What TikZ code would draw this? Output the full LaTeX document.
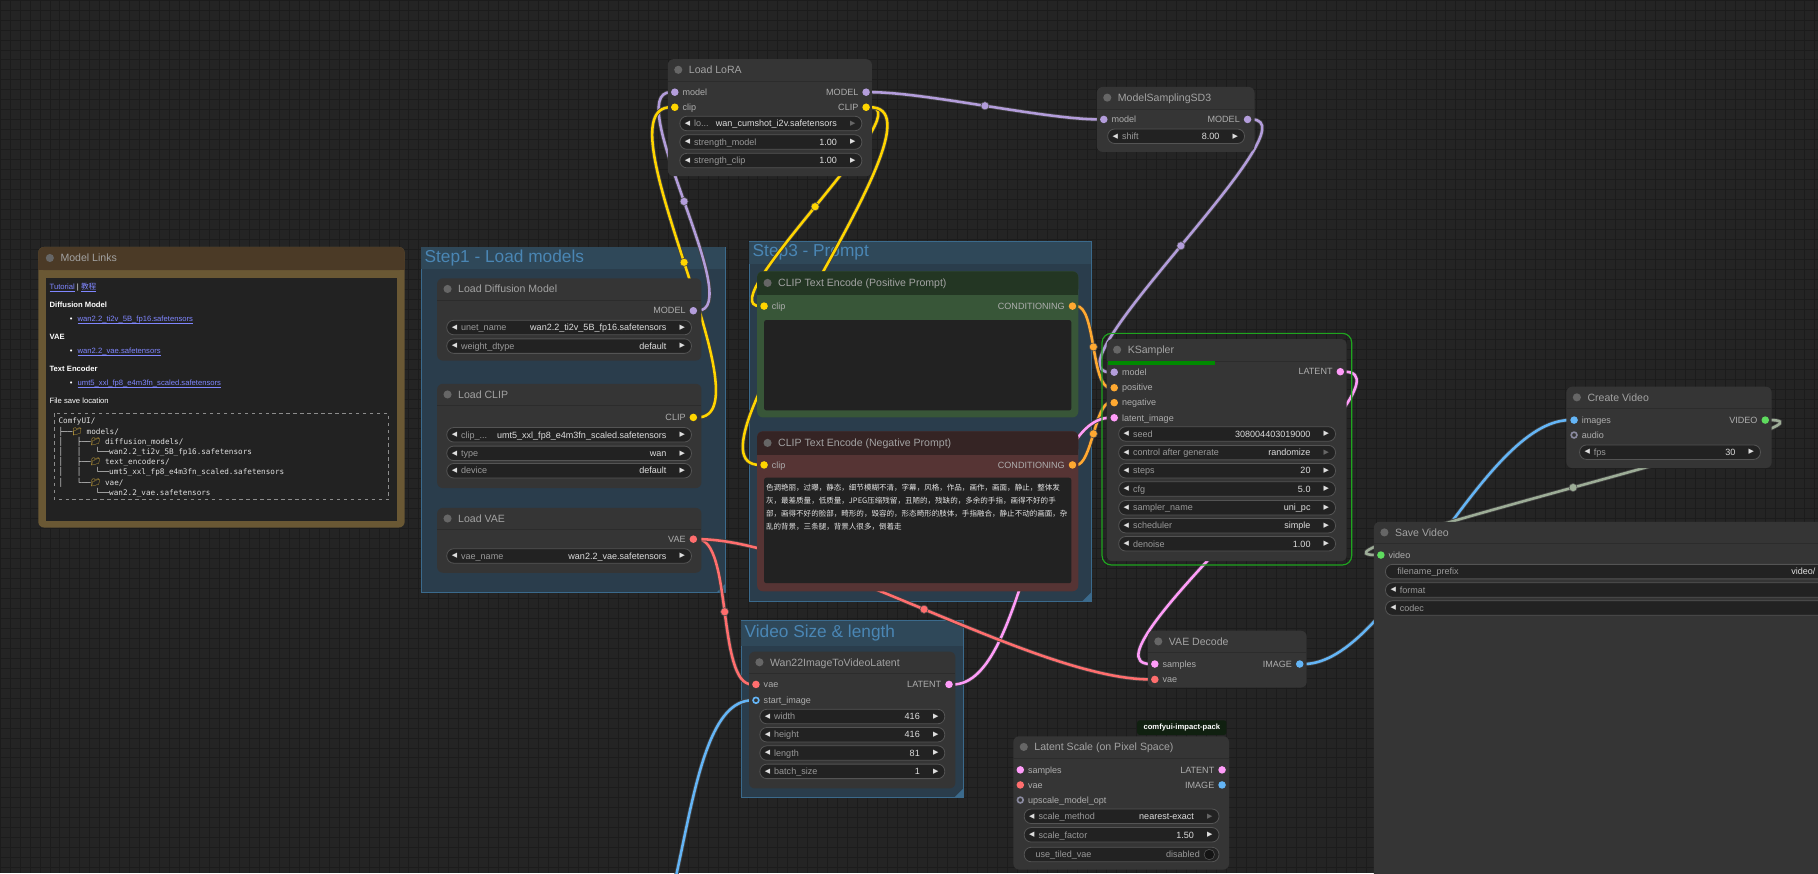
\documentclass[tikz,border=0pt]{standalone}
\usepackage{fontspec}
\setmainfont{Liberation Sans}
\newfontfamily\treefont{DejaVu Sans Mono}
\newfontfamily\cjkfont{Noto Sans CJK SC}
\newfontfamily\symfont{DejaVu Sans}
\newfontfamily\emojifont{Noto Emoji}
\usetikzlibrary{positioning,fit}

\definecolor{canvas}{HTML}{242424}
\definecolor{gridc}{HTML}{1C1C1C}
\definecolor{nodebg}{HTML}{353535}
\definecolor{sepc}{HTML}{2C2C2C}
\definecolor{pillbg}{HTML}{222222}
\definecolor{pillbrd}{HTML}{545454}
\definecolor{ttlc}{HTML}{A3A3A3}
\definecolor{lblc}{HTML}{AEAEAE}
\definecolor{wlblc}{HTML}{9A9A9A}
\definecolor{valc}{HTML}{DEDEDE}
\definecolor{dimc}{HTML}{666666}
\definecolor{dotc}{HTML}{666666}
\definecolor{grpfill}{HTML}{2A3D4C}
\definecolor{grpband}{HTML}{2F4859}
\definecolor{grpbrd}{HTML}{3B6A8C}
\definecolor{grptxt}{HTML}{4A86B4}
\definecolor{notetitle}{HTML}{4B3A26}
\definecolor{notebrd}{HTML}{6A5834}
\definecolor{linkc}{HTML}{7F86FF}
\definecolor{foldc}{HTML}{F5C542}
\definecolor{postitle}{HTML}{233623}
\definecolor{posbody}{HTML}{385638}
\definecolor{negtitle}{HTML}{352424}
\definecolor{negbody}{HTML}{563434}
\definecolor{modelc}{HTML}{B39DDB}
\definecolor{clipc}{HTML}{FFD500}
\definecolor{condc}{HTML}{FFA931}
\definecolor{latentc}{HTML}{FF9CF9}
\definecolor{vaec}{HTML}{FF6E6E}
\definecolor{imagec}{HTML}{64B5F6}
\definecolor{videoc}{HTML}{5EDB5E}
\definecolor{vlinkc}{HTML}{9DAD97}
\definecolor{optc}{HTML}{8A8AA0}
\definecolor{runc}{HTML}{1FA51F}
\definecolor{progc}{HTML}{008A00}
\definecolor{badgec}{HTML}{102010}

\pgfdeclarelayer{bg}
\pgfdeclarelayer{links}
\pgfsetlayers{bg,links,main}

% node body with its title row
\newcommand{\cbody}[6]{%
  \node[cbox, fit={(#2,#3) (#4,#5)}] (#1) {};
  \draw[sepc, line width=0.8pt] (#2,#3+19) -- (#4,#3+19);
  \node[tdot] (#1-dot) at (#2+9,#3+9.2) {};
  \node[ttl, anchor=base west] (#1-ttl) at (#2+18,#3+12.5) {#6};
}
% input / output slots
\newcommand{\inslot}[5]{%
  \node[slot, fill=#4] (#1) at (#2,#3) {};
  \node[slbl, anchor=base west] (#1-lbl) at (#2+6.5,#3+2.8) {#5};
}
\newcommand{\optslot}[5]{%
  \node[oslot=#4] (#1) at (#2,#3) {};
  \node[slbl, anchor=base west] (#1-lbl) at (#2+6.5,#3+2.8) {#5};
}
\newcommand{\outslot}[5]{%
  \node[slot, fill=#4] (#1) at (#2,#3) {};
  \node[slbl, anchor=base east] (#1-lbl) at (#2-6.5,#3+2.8) {#5};
}
% combo / number widget
\newcommand{\wdg}[7][valc]{%
  \node[pill, minimum width={(#4-#3)*1pt}, anchor=west] (#2) at (#3,#5) {};
  \node[wtip] (#2-l) at (#3+7,#5) {◀};
  \node[wlbl, anchor=base west] (#2-n) at (#3+12.5,#5+2.8) {#6};
  \node[wval, anchor=base east] (#2-v) at (#4-21,#5+2.8) {#7};
  \node[wtip, text=#1] (#2-r) at (#4-7.5,#5) {▶};
}
% combo cut by the right edge
\newcommand{\wdgcut}[5]{%
  \node[pill, minimum width={(#4-#3)*1pt}, anchor=west] (#2) at (#3,#5) {};
  \node[wtip] (#2-l) at (#3+7,#5) {◀};
  \node[wlbl, anchor=base west] (#2-n) at (#3+12.5,#5+2.8) {#1};
}
\newcommand{\fold}{{\emojifont\color{foldc}📁}}
\newcommand{\lnk}[1]{\textcolor{linkc}{\underline{\smash{#1}}}}

\begin{document}
\begin{tikzpicture}[
  x=1pt, y=-1pt,
  cbox/.style={rectangle, rounded corners=5pt, fill=nodebg, inner sep=0pt, outer sep=0pt},
  tdot/.style={circle, fill=dotc, inner sep=0pt, minimum size=7pt},
  ttl/.style={font=\fontsize{9.1}{10}\selectfont, text=ttlc, inner sep=0pt},
  slot/.style={circle, inner sep=0pt, minimum size=6.5pt},
  oslot/.style={circle, inner sep=0pt, minimum size=5pt, draw=#1, line width=1.4pt, fill=nodebg},
  slbl/.style={font=\fontsize{7.8}{9}\selectfont, text=lblc, inner sep=0pt},
  pill/.style={rectangle, rounded corners=6pt, minimum height=12.5pt, inner sep=0pt, fill=pillbg, draw=pillbrd, line width=0.7pt},
  wtip/.style={font=\symfont\fontsize{6}{6}\selectfont, text=valc, inner sep=0pt},
  wlbl/.style={font=\fontsize{7.8}{9}\selectfont, text=wlblc, inner sep=0pt},
  wval/.style={font=\fontsize{7.8}{9}\selectfont, text=valc, inner sep=0pt},
  tarea/.style={rectangle, rounded corners=2pt, fill=pillbg, inner sep=0pt},
  group/.style={rectangle, fill=grpfill, draw=grpbrd, line width=0.6pt, inner sep=0pt},
  gtitle/.style={font=\fontsize{14.9}{16}\selectfont, text=grptxt, inner sep=0pt},
  wire/.style={draw=#1, line width=2.2pt, preaction={draw=black!75, line width=3.6pt}},
  hub/.style={circle, fill=#1, draw=black!70, line width=0.5pt, inner sep=0pt, minimum size=7pt},
  note/.style={font=\fontsize{6.6}{8}\selectfont, text=white, inner sep=0pt},
  tree/.style={font=\treefont\fontsize{6.6}{8}\selectfont, text=white!88!black, inner sep=0pt},
  cjk/.style={font=\cjkfont\fontsize{6.5}{8}\selectfont, text=white!90!black, inner sep=0pt}
]
\useasboundingbox (0,0) rectangle (1568,753);

% Canvas and groups
\begin{pgfonlayer}{bg}
  \fill[canvas] (0,0) rectangle (1568,753);
  \foreach \gx in {0,8.6,...,1568} \draw[gridc, line width=0.6pt] (\gx,0) -- (\gx,753);
  \foreach \gy in {0,8.6,...,753} \draw[gridc, line width=0.6pt] (0,\gy) -- (1568,\gy);

  \node[group, fit={(363,213) (626,511)}] (step1) {};
  \fill[grpband] (363.3,213.3) rectangle (625.7,232);
  \node[gtitle, anchor=west] (step1-t) at (366,222.5) {Step1 - Load models};
  \fill[grpbrd] (626,511) -- (618,511) -- (626,503) -- cycle;

  \node[group, fit={(646,208) (941,519)}] (step3) {};
  \fill[grpband] (646.3,208.3) rectangle (940.7,228);
  \node[gtitle, anchor=west] (step3-t) at (649,217.5) {Step3 - Prompt};
  \fill[grpbrd] (941,519) -- (933,519) -- (941,511) -- cycle;

  \node[group, fit={(639,535) (831,688)}] (vsize) {};
  \fill[grpband] (639.3,535.3) rectangle (830.7,557.5);
  \node[gtitle, anchor=west] (vsize-t) at (642,545.7) {Video Size \& length};
  \fill[grpbrd] (831,688) -- (823,688) -- (831,680) -- cycle;
\end{pgfonlayer}

% Model Links note
\node[rectangle, rounded corners=5pt, fill=notebrd, inner sep=0pt, fit={(33,213) (349,455)}] (links) {};
\fill[notetitle, rounded corners=5pt] (33,213) rectangle (349,233);
\fill[notetitle] (33,225) rectangle (349,233);
\node[fill=pillbg, inner sep=0pt, fit={(40,240) (342,449)}] (links-in) {};
\node[tdot] (links-dot) at (43,222.5) {};
\node[ttl, anchor=base west] (links-ttl) at (52,225.8) {Model Links};
\node[note, anchor=west] (tut) at (42.6,248.6) {\lnk{Tutorial} | \lnk{\cjkfont 教程}};
\node[note, anchor=west] (h-diff) at (42.6,263) {\bfseries Diffusion Model};
\node[note, anchor=west] (b-diff) at (60,277) {•\hspace{4.5pt}\lnk{wan2.2\_ti2v\_5B\_fp16.safetensors}};
\node[note, anchor=west] (h-vae) at (42.6,290.7) {\bfseries VAE};
\node[note, anchor=west] (b-vae) at (60,304.6) {•\hspace{4.5pt}\lnk{wan2.2\_vae.safetensors}};
\node[note, anchor=west] (h-enc) at (42.6,318.3) {\bfseries Text Encoder};
\node[note, anchor=west] (b-enc) at (60,332) {•\hspace{4.5pt}\lnk{umt5\_xxl\_fp8\_e4m3fn\_scaled.safetensors}};
\node[note, anchor=west] (h-save) at (42.6,346) {File save location};
\draw[white!55!black, dashed, line width=0.5pt] (47,356.5) rectangle (335,431);
\node[tree, anchor=west] (tr1) at (50.3,363.7) {ComfyUI/};
\node[tree, anchor=west] (tr2) at (50.3,372.5) {├──\fold\ models/};
\node[tree, anchor=west] (tr3) at (50.3,381.3) {│\ \ \ ├──\fold\ diffusion\_models/};
\node[tree, anchor=west] (tr4) at (50.3,390) {│\ \ \ │\ \ \ └──wan2.2\_ti2v\_5B\_fp16.safetensors};
\node[tree, anchor=west] (tr5) at (50.3,398.7) {│\ \ \ ├──\fold\ text\_encoders/};
\node[tree, anchor=west] (tr6) at (50.3,407.4) {│\ \ \ │\ \ \ └──umt5\_xxl\_fp8\_e4m3fn\_scaled.safetensors};
\node[tree, anchor=west] (tr7) at (50.3,416.1) {│\ \ \ └──\fold\ vae/};
\node[tree, anchor=west] (tr8) at (50.3,424.8) {\ \ \ \ \ \ \ \ └──wan2.2\_vae.safetensors};

% Load LoRA
\cbody{lora}{576}{51}{752}{152}{Load LoRA}
\inslot{lora-min}{582}{79.5}{modelc}{model}
\inslot{lora-cin}{582}{92.5}{clipc}{clip}
\outslot{lora-mout}{747}{79.5}{modelc}{MODEL}
\outslot{lora-cout}{747}{92.5}{clipc}{CLIP}
\wdg[dimc]{lora-w1}{586}{743}{106.5}{lo...}{wan\_cumshot\_i2v.safetensors}
\wdg{lora-w2}{586}{743}{122.5}{strength\_model}{1.00}
\wdg{lora-w3}{586}{743}{138.5}{strength\_clip}{1.00}

% ModelSamplingSD3
\cbody{mss}{946}{75}{1082}{131}{ModelSamplingSD3}
\inslot{mss-in}{952}{103}{modelc}{model}
\outslot{mss-out}{1076}{103}{modelc}{MODEL}
\wdg{mss-w1}{955}{1073}{117.5}{shift}{8.00}

% Step1 - loaders
\cbody{ldm}{377}{240}{605}{311}{Load Diffusion Model}
\outslot{ldm-out}{598}{268}{modelc}{MODEL}
\wdg{ldm-w1}{385}{596}{282.5}{unet\_name}{wan2.2\_ti2v\_5B\_fp16.safetensors}
\wdg{ldm-w2}{385}{596}{298.5}{weight\_dtype}{default}

\cbody{lclip}{377}{331}{605}{421}{Load CLIP}
\outslot{lclip-out}{598}{360}{clipc}{CLIP}
\wdg{lclip-w1}{385}{596}{375}{clip\_...}{umt5\_xxl\_fp8\_e4m3fn\_scaled.safetensors}
\wdg{lclip-w2}{385}{596}{391}{type}{wan}
\wdg{lclip-w3}{385}{596}{406}{device}{default}

\cbody{lvae}{377}{438}{605}{494}{Load VAE}
\outslot{lvae-out}{598}{465}{vaec}{VAE}
\wdg{lvae-w1}{385}{596}{479.5}{vae\_name}{wan2.2\_vae.safetensors}

% Step3 - prompts
\node[cbox, fill=posbody, fit={(653,234) (930,360)}] (pos) {};
\fill[postitle, rounded corners=5pt] (653,234) rectangle (930,254);
\fill[postitle] (653,246) rectangle (930,254);
\node[tdot] (pos-dot) at (662,244) {};
\node[ttl, anchor=base west] (pos-ttl) at (671,247.3) {CLIP Text Encode (Positive Prompt)};
\inslot{pos-cin}{659}{264}{clipc}{clip}
\outslot{pos-out}{925}{264}{condc}{CONDITIONING}
\node[tarea, fit={(659,276) (924,354)}] (pos-txt) {};

\node[cbox, fill=negbody, fit={(653,372) (930,510)}] (neg) {};
\fill[negtitle, rounded corners=5pt] (653,372) rectangle (930,392);
\fill[negtitle] (653,384) rectangle (930,392);
\node[tdot] (neg-dot) at (662,382) {};
\node[ttl, anchor=base west] (neg-ttl) at (671,385.3) {CLIP Text Encode (Negative Prompt)};
\inslot{neg-cin}{659}{401}{clipc}{clip}
\outslot{neg-out}{925}{401}{condc}{CONDITIONING}
\node[tarea, fit={(659,412) (924,503)}] (neg-txt) {};
\node[cjk, anchor=west] (neg-t1) at (660.5,420.5) {色调艳丽，过曝，静态，细节模糊不清，字幕，风格，作品，画作，画面，静止，整体发};
\node[cjk, anchor=west] (neg-t2) at (660.5,431.8) {灰，最差质量，低质量，JPEG压缩残留，丑陋的，残缺的，多余的手指，画得不好的手};
\node[cjk, anchor=west] (neg-t3) at (660.5,443.1) {部，画得不好的脸部，畸形的，毁容的，形态畸形的肢体，手指融合，静止不动的画面，杂};
\node[cjk, anchor=west] (neg-t4) at (660.5,454.4) {乱的背景，三条腿，背景人很多，倒着走};

% KSampler
\node[rectangle, rounded corners=8pt, draw=runc, line width=1pt, inner sep=0pt, fit={(950.5,287.5) (1165.8,487.3)}] (ks-run) {};
\cbody{ks}{954.5}{292.4}{1161.5}{484}{KSampler}
\fill[progc] (956,311.4) rectangle (1048,315.2);
\inslot{ks-model}{961}{321}{modelc}{model}
\inslot{ks-pos}{961}{334.4}{condc}{positive}
\inslot{ks-neg}{961}{347.3}{condc}{negative}
\inslot{ks-lat}{961}{360.3}{latentc}{latent\_image}
\outslot{ks-out}{1156}{320.6}{latentc}{LATENT}
\wdg{ks-w1}{964.5}{1151.5}{374.3}{seed}{308004403019000}
\wdg[dimc]{ks-w2}{964.5}{1151.5}{390.4}{control after generate}{randomize}
\wdg{ks-w3}{964.5}{1151.5}{406}{steps}{20}
\wdg{ks-w4}{964.5}{1151.5}{421.7}{cfg}{5.0}
\wdg{ks-w5}{964.5}{1151.5}{437.9}{sampler\_name}{uni\_pc}
\wdg{ks-w6}{964.5}{1151.5}{453.4}{scheduler}{simple}
\wdg{ks-w7}{964.5}{1151.5}{469}{denoise}{1.00}

% Video size & length
\cbody{wan}{646}{562}{824}{680}{Wan22ImageToVideoLatent}
\inslot{wan-vin}{652}{590.3}{vaec}{vae}
\optslot{wan-iin}{652}{604}{imagec}{start\_image}
\outslot{wan-out}{818.5}{590.3}{latentc}{LATENT}
\wdg{wan-w1}{655}{814.5}{618}{width}{416}
\wdg{wan-w2}{655}{814.5}{633.7}{height}{416}
\wdg{wan-w3}{655}{814.5}{649.5}{length}{81}
\wdg{wan-w4}{655}{814.5}{665.3}{batch\_size}{1}

% VAE Decode
\cbody{vaed}{990}{544}{1127}{593}{VAE Decode}
\inslot{vaed-sin}{996}{572.7}{latentc}{samples}
\inslot{vaed-vin}{996}{586}{vaec}{vae}
\outslot{vaed-out}{1121}{572.7}{imagec}{IMAGE}

% Latent Scale (impact pack)
\node[rectangle, rounded corners=2pt, fill=badgec, text=white, font=\bfseries\fontsize{6.6}{8}\selectfont, inner sep=0pt, minimum height=12.5pt, minimum width=77pt, anchor=south east] (lsc-badge) at (1058,634) {comfyui-impact-pack};
\cbody{lsc}{874}{635}{1060}{750}{Latent Scale (on Pixel Space)}
\inslot{lsc-sin}{880}{664}{latentc}{samples}
\inslot{lsc-vin}{880}{677}{vaec}{vae}
\optslot{lsc-uin}{880}{690}{optc}{upscale\_model\_opt}
\outslot{lsc-lout}{1054}{664}{latentc}{LATENT}
\outslot{lsc-iout}{1054}{677}{imagec}{IMAGE}
\wdg[dimc]{lsc-w1}{883}{1051}{704}{scale\_method}{nearest-exact}
\wdg{lsc-w2}{883}{1051}{720}{scale\_factor}{1.50}
\node[pill, minimum width=168pt, anchor=west] (lsc-w3) at (883,737) {};
\node[wlbl, anchor=base west] (lsc-w3-n) at (893,739.8) {use\_tiled\_vae};
\node[wlbl, anchor=base east] (lsc-w3-v) at (1035,739.8) {disabled};
\node[circle, fill=pillbg!60!black, draw=pillbrd, line width=0.5pt, minimum size=9pt, inner sep=0pt] (lsc-w3-t) at (1043,737) {};

% Create Video
\cbody{cv}{1351}{333.5}{1528}{403.7}{Create Video}
\inslot{cv-iin}{1357.6}{362.3}{imagec}{images}
\optslot{cv-ain}{1357.6}{375.2}{optc}{audio}
\outslot{cv-out}{1522.5}{362.3}{videoc}{VIDEO}
\wdg{cv-w1}{1362}{1518}{390}{fps}{30}

% Save Video (runs past the right edge)
\cbody{sv}{1185}{450}{1640}{800}{Save Video}
\inslot{sv-vin}{1191}{478.7}{videoc}{video}
\node[pill, minimum width=425pt, anchor=west] (sv-w1) at (1194.6,493) {};
\node[wlbl, anchor=base west] (sv-w1-n) at (1205,495.8) {filename\_prefix};
\node[wval, anchor=base east] (sv-w1-v) at (1566,495.8) {video/};
\wdgcut{format}{sv-w2}{1194.6}{1620}{508.9}
\wdgcut{codec}{sv-w3}{1194.6}{1620}{524.4}

% Links
\begin{pgfonlayer}{links}
  \draw[wire=modelc] (ldm-out) .. controls +(47.3,0) and +(-47.3,0) .. (lora-min) node[hub=modelc, pos=.5] (h-ldm) {};
  \draw[wire=clipc] (lclip-out) .. controls +(67,0) and +(-67,0) .. (lora-cin) node[hub=clipc, pos=.5] (h-lclip) {};
  \draw[wire=modelc] (lora-mout) .. controls +(51.6,0) and +(-51.6,0) .. (mss-in) node[hub=modelc, pos=.5] (h-lora) {};
  \draw[wire=modelc] (mss-out) .. controls +(61.6,0) and +(-61.6,0) .. (ks-model) node[hub=modelc, pos=.5] (h-mss) {};
  \draw[wire=clipc] (lora-cout) .. controls +(48.2,0) and +(-48.2,0) .. (pos-cin) node[hub=clipc, pos=.5] (h-pos) {};
  \draw[wire=clipc] (lora-cout) .. controls +(80.2,0) and +(-80.2,0) .. (neg-cin) node[hub=clipc, pos=.5] (h-neg) {};
  \draw[wire=condc] (pos-out) .. controls +(20,0) and +(-20,0) .. (ks-pos) node[hub=condc, pos=.5] (h-cpos) {};
  \draw[wire=condc] (neg-out) .. controls +(16.2,0) and +(-16.2,0) .. (ks-neg) node[hub=condc, pos=.5] (h-cneg) {};
  \draw[wire=latentc] (wan-out) .. controls +(67.6,0) and +(-67.6,0) .. (ks-lat) node[hub=latentc, pos=.5] (h-wan) {};
  \draw[wire=latentc] (ks-out) .. controls +(74.6,0) and +(-74.6,0) .. (vaed-sin) node[hub=latentc, pos=.5] (h-ks) {};
  \draw[wire=vaec] (lvae-out) .. controls +(33.8,0) and +(-33.8,0) .. (wan-vin) node[hub=vaec, pos=.5] (h-vae1) {};
  \draw[wire=vaec] (lvae-out) .. controls +(103.5,0) and +(-103.5,0) .. (vaed-vin) node[hub=vaec, pos=.5] (h-vae2) {};
  \draw[wire=imagec] (vaed-out) .. controls +(79,0) and +(-79,0) .. (cv-iin) node[hub=imagec, pos=.5] (h-img) {};
  \draw[wire=vlinkc] (cv-out) .. controls +(87.9,0) and +(-87.9,0) .. (sv-vin) node[hub=vlinkc, pos=.5] (h-vid) {};
  \coordinate (img-src) at (525,860);
  \draw[wire=imagec] (img-src) .. controls +(72,0) and +(-72,0) .. (wan-iin);
\end{pgfonlayer}

\end{tikzpicture}
\end{document}
